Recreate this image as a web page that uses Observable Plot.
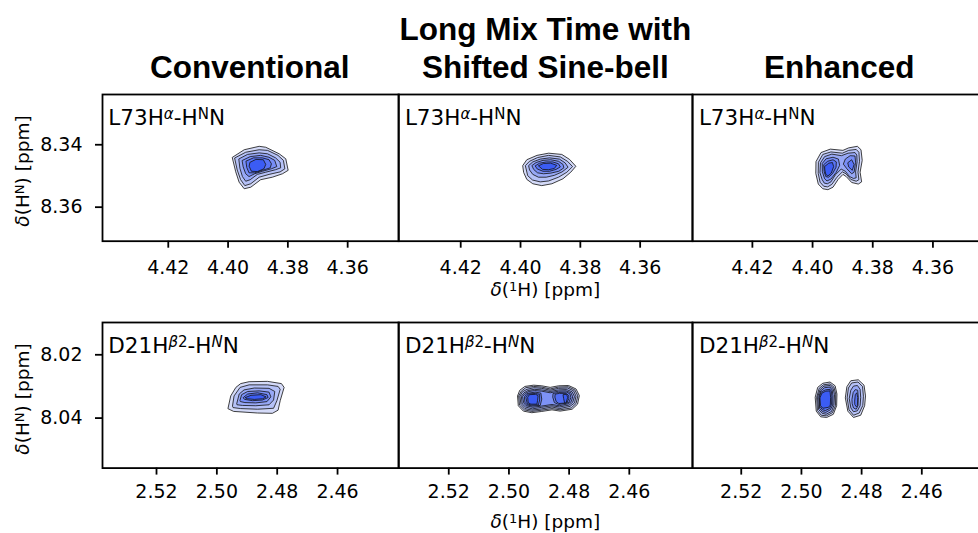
<!DOCTYPE html>
<html><head><meta charset="utf-8">
<script src="https://cdn.jsdelivr.net/npm/d3@7"></script>
<script src="https://cdn.jsdelivr.net/npm/@observablehq/plot@0.6"></script>
<style>
html,body{margin:0;padding:0;background:#fff;overflow:hidden}
#fig{position:relative;width:978px;height:533px;overflow:hidden;background:#fff}
.panel{position:absolute}
.panel svg{max-width:none !important}
.panel g[aria-label*="axis"] path,.panel g[aria-label*="axis"] line{stroke-width:1.8px}
#overlay{position:absolute;left:0;top:0;pointer-events:none}
</style></head><body><div id="fig"></div>
<script>
// ---- data: column titles, ticks and axis limits (ppm) ----
const colTitles = [["Conventional"], ["Long Mix Time with", "Shifted Sine-bell"], ["Enhanced"]];
const ticksH_L73 = [4.42, 4.40, 4.38, 4.36];
const ticksH_D21 = [2.52, 2.50, 2.48, 2.46];
const ticksN_L73 = [8.34, 8.36];
const ticksN_D21 = [8.02, 8.04];
const limitsH_L73 = [[4.4420, 4.3429], [4.4408, 4.3425], [4.4399, 4.3422]];
const limitsH_D21 = [[2.5379, 2.4397], [2.5367, 2.4390], [2.5362, 2.4385]];
const limitsN_L73 = [8.3239, 8.3709];
const limitsN_D21 = [8.0098, 8.0558];

// ---- contour polygons [level, [[δ1H, δHN], ...]] ----
const contoursL73Conventional = [
 [1, [[4.3985,8.3440],[4.3946,8.3416],[4.3896,8.3405],[4.3874,8.3408],[4.3829,8.3429],[4.3807,8.3445],[4.3799,8.3482],[4.3818,8.3493],[4.3852,8.3504],[4.3891,8.3512],[4.3924,8.3536],[4.3946,8.3541],[4.3963,8.3520],[4.3974,8.3488]]],
 [2, [[4.3977,8.3442],[4.3941,8.3424],[4.3896,8.3416],[4.3868,8.3418],[4.3833,8.3434],[4.3815,8.3450],[4.3810,8.3477],[4.3826,8.3487],[4.3863,8.3495],[4.3896,8.3504],[4.3924,8.3525],[4.3944,8.3531],[4.3958,8.3512],[4.3969,8.3482]]],
 [3, [[4.3963,8.3445],[4.3935,8.3431],[4.3896,8.3426],[4.3868,8.3429],[4.3841,8.3442],[4.3826,8.3456],[4.3824,8.3474],[4.3841,8.3480],[4.3874,8.3488],[4.3902,8.3495],[4.3926,8.3512],[4.3941,8.3517],[4.3952,8.3502],[4.3960,8.3477]]],
 [4, [[4.3952,8.3450],[4.3926,8.3438],[4.3891,8.3434],[4.3863,8.3440],[4.3844,8.3450],[4.3837,8.3470],[4.3855,8.3477],[4.3885,8.3485],[4.3911,8.3493],[4.3930,8.3502],[4.3941,8.3493],[4.3949,8.3472]]],
 [5, [[4.3939,8.3452],[4.3915,8.3442],[4.3885,8.3442],[4.3863,8.3448],[4.3855,8.3461],[4.3859,8.3474],[4.3885,8.3482],[4.3911,8.3490],[4.3930,8.3490],[4.3937,8.3474]]],
 [6, [[4.3926,8.3456],[4.3907,8.3447],[4.3882,8.3448],[4.3874,8.3463],[4.3880,8.3477],[4.3902,8.3486],[4.3922,8.3485],[4.3929,8.3470]]]
];
const contoursL73Sinebell = [
 [1, [[4.3992,8.3466],[4.3979,8.3448],[4.3945,8.3434],[4.3906,8.3427],[4.3862,8.3431],[4.3836,8.3447],[4.3815,8.3469],[4.3832,8.3488],[4.3858,8.3509],[4.3895,8.3525],[4.3929,8.3531],[4.3959,8.3525],[4.3979,8.3511],[4.3989,8.3490]]],
 [2, [[4.3983,8.3466],[4.3970,8.3453],[4.3943,8.3441],[4.3906,8.3434],[4.3867,8.3439],[4.3843,8.3453],[4.3826,8.3470],[4.3845,8.3488],[4.3873,8.3504],[4.3906,8.3516],[4.3934,8.3519],[4.3960,8.3513],[4.3975,8.3500]]],
 [3, [[4.3972,8.3466],[4.3959,8.3455],[4.3934,8.3446],[4.3903,8.3442],[4.3870,8.3446],[4.3851,8.3458],[4.3841,8.3472],[4.3861,8.3487],[4.3887,8.3498],[4.3914,8.3504],[4.3940,8.3504],[4.3959,8.3495],[4.3969,8.3482]]],
 [4, [[4.3961,8.3466],[4.3948,8.3457],[4.3925,8.3450],[4.3899,8.3448],[4.3873,8.3453],[4.3858,8.3463],[4.3855,8.3474],[4.3872,8.3485],[4.3899,8.3491],[4.3923,8.3493],[4.3943,8.3490],[4.3955,8.3480]]],
 [5, [[4.3950,8.3467],[4.3936,8.3459],[4.3914,8.3455],[4.3892,8.3455],[4.3873,8.3461],[4.3867,8.3471],[4.3881,8.3479],[4.3903,8.3485],[4.3925,8.3485],[4.3943,8.3478]]],
 [6, [[4.3939,8.3467],[4.3923,8.3460],[4.3899,8.3459],[4.3879,8.3466],[4.3887,8.3476],[4.3906,8.3480],[4.3925,8.3479]]]
];
const contoursL73Enhanced = [
 [1, [[4.3988,8.3453],[4.3972,8.3425],[4.3941,8.3414],[4.3899,8.3418],[4.3880,8.3410],[4.3851,8.3405],[4.3839,8.3416],[4.3835,8.3450],[4.3842,8.3488],[4.3837,8.3519],[4.3848,8.3526],[4.3870,8.3521],[4.3888,8.3502],[4.3899,8.3495],[4.3915,8.3511],[4.3932,8.3536],[4.3949,8.3544],[4.3966,8.3541],[4.3981,8.3526],[4.3989,8.3493]]],
 [2, [[4.3980,8.3455],[4.3966,8.3431],[4.3939,8.3423],[4.3901,8.3427],[4.3880,8.3418],[4.3855,8.3415],[4.3846,8.3424],[4.3844,8.3453],[4.3849,8.3488],[4.3846,8.3512],[4.3855,8.3517],[4.3873,8.3511],[4.3889,8.3493],[4.3901,8.3487],[4.3919,8.3504],[4.3936,8.3527],[4.3950,8.3535],[4.3963,8.3533],[4.3975,8.3520],[4.3981,8.3493]]],
 [3, [[4.3973,8.3457],[4.3960,8.3438],[4.3936,8.3430],[4.3904,8.3435],[4.3882,8.3427],[4.3859,8.3425],[4.3853,8.3433],[4.3852,8.3455],[4.3857,8.3487],[4.3855,8.3506],[4.3864,8.3508],[4.3877,8.3502],[4.3891,8.3485],[4.3905,8.3478],[4.3924,8.3496],[4.3939,8.3519],[4.3951,8.3525],[4.3961,8.3523],[4.3968,8.3512],[4.3975,8.3491]]],
 [4, [[4.3967,8.3459],[4.3955,8.3445],[4.3932,8.3440],[4.3914,8.3446],[4.3910,8.3466],[4.3921,8.3488],[4.3939,8.3510],[4.3952,8.3516],[4.3960,8.3509],[4.3967,8.3488]]],
 [4, [[4.3890,8.3445],[4.3875,8.3435],[4.3859,8.3436],[4.3857,8.3456],[4.3862,8.3488],[4.3870,8.3493],[4.3886,8.3477],[4.3897,8.3463]]],
 [5, [[4.3962,8.3463],[4.3950,8.3453],[4.3932,8.3448],[4.3921,8.3455],[4.3922,8.3472],[4.3934,8.3493],[4.3947,8.3504],[4.3956,8.3502],[4.3961,8.3488]]],
 [5, [[4.3882,8.3457],[4.3870,8.3448],[4.3862,8.3463],[4.3868,8.3482],[4.3879,8.3472]]],
 [6, [[4.3959,8.3469],[4.3946,8.3459],[4.3934,8.3457],[4.3930,8.3470],[4.3938,8.3491],[4.3949,8.3500],[4.3956,8.3495],[4.3959,8.3482]]]
];
const contoursD21Conventional = [
 [1, [[2.4963,8.0369],[2.4954,8.0330],[2.4937,8.0303],[2.4921,8.0291],[2.4893,8.0285],[2.4832,8.0284],[2.4786,8.0291],[2.4777,8.0303],[2.4790,8.0345],[2.4797,8.0375],[2.4816,8.0385],[2.4865,8.0384],[2.4943,8.0379]]],
 [2, [[2.4948,8.0361],[2.4943,8.0330],[2.4923,8.0303],[2.4893,8.0295],[2.4832,8.0295],[2.4797,8.0300],[2.4790,8.0309],[2.4801,8.0345],[2.4812,8.0369],[2.4865,8.0372],[2.4921,8.0370],[2.4945,8.0367]]],
 [3, [[2.4934,8.0354],[2.4926,8.0324],[2.4910,8.0311],[2.4876,8.0305],[2.4827,8.0306],[2.4808,8.0316],[2.4812,8.0343],[2.4827,8.0358],[2.4871,8.0361],[2.4915,8.0360],[2.4932,8.0358]]],
 [4, [[2.4923,8.0343],[2.4918,8.0326],[2.4898,8.0316],[2.4860,8.0314],[2.4827,8.0318],[2.4821,8.0333],[2.4834,8.0348],[2.4871,8.0352],[2.4907,8.0351],[2.4921,8.0348]]],
 [5, [[2.4912,8.0335],[2.4898,8.0324],[2.4865,8.0320],[2.4834,8.0326],[2.4830,8.0335],[2.4849,8.0343],[2.4882,8.0345],[2.4907,8.0341]]],
 [6, [[2.4905,8.0335],[2.4887,8.0328],[2.4854,8.0326],[2.4837,8.0333],[2.4848,8.0339],[2.4876,8.0341],[2.4898,8.0339]]]
];
const contoursD21Sinebell = [
 [1, [[2.4971,8.0329],[2.4964,8.0312],[2.4947,8.0300],[2.4918,8.0296],[2.4891,8.0298],[2.4863,8.0303],[2.4835,8.0298],[2.4802,8.0297],[2.4777,8.0308],[2.4766,8.0329],[2.4772,8.0356],[2.4790,8.0372],[2.4830,8.0378],[2.4857,8.0374],[2.4891,8.0379],[2.4924,8.0383],[2.4952,8.0378],[2.4968,8.0362]]],
 [2, [[2.4967,8.0329],[2.4959,8.0315],[2.4944,8.0304],[2.4918,8.0300],[2.4891,8.0302],[2.4863,8.0308],[2.4835,8.0302],[2.4803,8.0301],[2.4781,8.0311],[2.4771,8.0330],[2.4777,8.0354],[2.4793,8.0368],[2.4830,8.0374],[2.4857,8.0370],[2.4891,8.0375],[2.4924,8.0379],[2.4949,8.0374],[2.4964,8.0360]]],
 [3, [[2.4963,8.0330],[2.4955,8.0317],[2.4940,8.0309],[2.4917,8.0304],[2.4891,8.0306],[2.4863,8.0312],[2.4835,8.0306],[2.4805,8.0305],[2.4785,8.0314],[2.4777,8.0331],[2.4782,8.0352],[2.4797,8.0363],[2.4831,8.0370],[2.4857,8.0365],[2.4891,8.0371],[2.4923,8.0375],[2.4947,8.0370],[2.4959,8.0358]]],
 [4, [[2.4958,8.0330],[2.4950,8.0320],[2.4937,8.0313],[2.4916,8.0309],[2.4891,8.0311],[2.4863,8.0316],[2.4835,8.0311],[2.4808,8.0310],[2.4790,8.0317],[2.4782,8.0332],[2.4788,8.0350],[2.4800,8.0359],[2.4832,8.0365],[2.4857,8.0361],[2.4891,8.0366],[2.4922,8.0371],[2.4945,8.0365],[2.4955,8.0356]]],
 [5, [[2.4954,8.0331],[2.4946,8.0322],[2.4934,8.0316],[2.4915,8.0313],[2.4891,8.0315],[2.4863,8.0320],[2.4835,8.0315],[2.4810,8.0314],[2.4794,8.0320],[2.4788,8.0333],[2.4793,8.0348],[2.4803,8.0355],[2.4833,8.0361],[2.4857,8.0357],[2.4891,8.0362],[2.4921,8.0366],[2.4943,8.0361],[2.4950,8.0353]]],
 [6, [[2.4948,8.0332],[2.4940,8.0322],[2.4913,8.0318],[2.4894,8.0321],[2.4891,8.0340],[2.4896,8.0360],[2.4924,8.0362],[2.4940,8.0358],[2.4946,8.0351]]],
 [6, [[2.4852,8.0322],[2.4835,8.0319],[2.4808,8.0318],[2.4797,8.0324],[2.4794,8.0335],[2.4801,8.0351],[2.4835,8.0357],[2.4849,8.0351],[2.4854,8.0335]]],
 [7, [[2.4943,8.0333],[2.4936,8.0324],[2.4912,8.0322],[2.4898,8.0325],[2.4898,8.0343],[2.4902,8.0358],[2.4926,8.0359],[2.4938,8.0355]]],
 [7, [[2.4845,8.0324],[2.4832,8.0322],[2.4810,8.0322],[2.4801,8.0329],[2.4801,8.0339],[2.4808,8.0352],[2.4834,8.0354],[2.4843,8.0348],[2.4847,8.0335]]],
 [8, [[2.4937,8.0333],[2.4932,8.0326],[2.4911,8.0325],[2.4903,8.0329],[2.4905,8.0345],[2.4907,8.0356],[2.4927,8.0356],[2.4935,8.0352]]],
 [8, [[2.4819,8.0326],[2.4808,8.0325],[2.4805,8.0335],[2.4810,8.0352],[2.4815,8.0352],[2.4818,8.0339]]]
];
const contoursD21Enhanced = [
 [1, [[2.4954,8.0333],[2.4946,8.0303],[2.4929,8.0290],[2.4905,8.0286],[2.4888,8.0298],[2.4882,8.0324],[2.4883,8.0361],[2.4894,8.0388],[2.4916,8.0398],[2.4936,8.0396],[2.4950,8.0379]]],
 [1, [[2.4854,8.0335],[2.4849,8.0301],[2.4836,8.0282],[2.4811,8.0279],[2.4792,8.0296],[2.4787,8.0330],[2.4790,8.0361],[2.4803,8.0391],[2.4827,8.0398],[2.4845,8.0379]]],
 [2, [[2.4949,8.0333],[2.4941,8.0306],[2.4927,8.0295],[2.4905,8.0292],[2.4892,8.0302],[2.4886,8.0324],[2.4887,8.0361],[2.4897,8.0383],[2.4917,8.0393],[2.4934,8.0391],[2.4946,8.0377]]],
 [2, [[2.4848,8.0335],[2.4844,8.0305],[2.4833,8.0289],[2.4812,8.0286],[2.4797,8.0300],[2.4794,8.0331],[2.4796,8.0360],[2.4808,8.0384],[2.4827,8.0391],[2.4841,8.0375]]],
 [3, [[2.4946,8.0333],[2.4938,8.0310],[2.4925,8.0299],[2.4905,8.0297],[2.4895,8.0306],[2.4890,8.0326],[2.4892,8.0360],[2.4900,8.0379],[2.4918,8.0388],[2.4931,8.0385],[2.4942,8.0374]]],
 [3, [[2.4841,8.0337],[2.4836,8.0312],[2.4827,8.0299],[2.4814,8.0297],[2.4805,8.0309],[2.4803,8.0335],[2.4805,8.0361],[2.4814,8.0377],[2.4827,8.0380],[2.4835,8.0369]]],
 [4, [[2.4942,8.0333],[2.4936,8.0314],[2.4923,8.0304],[2.4905,8.0302],[2.4898,8.0311],[2.4895,8.0329],[2.4896,8.0359],[2.4904,8.0374],[2.4919,8.0382],[2.4930,8.0380],[2.4939,8.0370]]],
 [4, [[2.4832,8.0340],[2.4828,8.0319],[2.4821,8.0310],[2.4813,8.0312],[2.4811,8.0335],[2.4812,8.0361],[2.4818,8.0372],[2.4827,8.0368],[2.4831,8.0356]]],
 [5, [[2.4940,8.0333],[2.4935,8.0318],[2.4921,8.0311],[2.4905,8.0309],[2.4900,8.0316],[2.4899,8.0331],[2.4900,8.0358],[2.4907,8.0370],[2.4920,8.0376],[2.4930,8.0374],[2.4938,8.0364]]],
 [5, [[2.4823,8.0345],[2.4821,8.0326],[2.4816,8.0320],[2.4813,8.0335],[2.4814,8.0361],[2.4818,8.0364],[2.4822,8.0358]]],
 [6, [[2.4938,8.0335],[2.4932,8.0321],[2.4919,8.0315],[2.4905,8.0314],[2.4903,8.0335],[2.4904,8.0359],[2.4910,8.0366],[2.4929,8.0369],[2.4936,8.0361]]]
];

// ---- layout (pixels) ----
const colLeft = [101.7, 398.3, 692.3], colW = [296.3, 294, 294];
const rowTop = [94, 321.7], rowH = [146.7, 145.6];
const levelColors = ["#d4daf8", "#3b5cf4"];

const rowsDef = [
  {contours: [contoursL73Conventional, contoursL73Sinebell, contoursL73Enhanced], xlim: limitsH_L73, ylim: limitsN_L73, xticks: ticksH_L73, yticks: ticksN_L73, pad: 12},
  {contours: [contoursD21Conventional, contoursD21Sinebell, contoursD21Enhanced], xlim: limitsH_D21, ylim: limitsN_D21, xticks: ticksH_D21, yticks: ticksN_D21, pad: 9.5}
];

const fig = document.getElementById("fig");
const fmt = d3.format(".2f");

rowsDef.forEach((r, ri) => {
  r.contours.forEach((contours, ci) => {
    const rows = [];
    contours.forEach(([level, pts], k) => pts.forEach(([x, y]) => rows.push({id: k, level, x, y})));
    const nMax = d3.max(contours, c => c[0]);
    const mL = ci === 0 ? 70 : 1, mR = 1, mT = 1, mB = 45;
    const plot = Plot.plot({
      width: colW[ci] + mL + mR,
      height: rowH[ri] + mT + mB,
      marginLeft: mL, marginRight: mR, marginTop: mT, marginBottom: mB,
      style: {fontFamily: "DejaVu Sans", fontSize: "19px", color: "#000", background: "transparent", maxWidth: "none", overflow: "visible"},
      x: {domain: r.xlim[ci], ticks: r.xticks, tickFormat: fmt, tickSize: 7, tickPadding: r.pad, label: null},
      y: ci === 0
        ? {domain: r.ylim, reverse: true, ticks: r.yticks, tickFormat: fmt, tickSize: 7, tickPadding: 13, label: null}
        : {domain: r.ylim, reverse: true, axis: null},
      color: {type: "linear", domain: [1, nMax], range: levelColors},
      marks: [
        Plot.line(rows, {x: "x", y: "y", z: "id", fill: "level", stroke: "#111", strokeWidth: 0.8, curve: "linear-closed"}),
        Plot.frame({stroke: "#000", strokeWidth: 1.8})
      ]
    });
    const div = document.createElement("div");
    div.className = "panel";
    div.style.left = (colLeft[ci] - mL) + "px";
    div.style.top = (rowTop[ri] - mT) + "px";
    div.style.width = (colW[ci] + mL + mR) + "px";
    div.appendChild(plot);
    fig.appendChild(div);
  });
});

// ---- text overlay ----
const centers = colLeft.map((l, i) => l + colW[i] / 2);
const rowLabels = [
  'L73H<tspan font-size="15" dy="-6" font-style="italic">α</tspan><tspan dy="6">-H</tspan><tspan font-size="15" dy="-6">N</tspan><tspan dy="6">N</tspan>',
  'D21H<tspan font-size="15" dy="-6"><tspan font-style="italic">β</tspan>2</tspan><tspan dy="6">-H</tspan><tspan font-size="15" dy="-6" font-style="italic">N</tspan><tspan dy="6">N</tspan>'
];
const xLabel = '<tspan font-style="italic">δ</tspan>(<tspan font-size="13" dy="-5.5">1</tspan><tspan dy="5.5">H) [ppm]</tspan>';
const yLabel = '<tspan font-style="italic">δ</tspan>(H<tspan font-size="13" dy="-5.5">N</tspan><tspan dy="5.5">) [ppm]</tspan>';
let s = '<svg id="overlay" width="978" height="533" xmlns="http://www.w3.org/2000/svg">';
s += '<g font-family="Liberation Sans, Arial, sans-serif" font-weight="bold" font-size="31.5" text-anchor="middle" fill="#000">';
colTitles.forEach((lines, i) => {
  lines.forEach((t, j) => {
    const y = 77.5 - (lines.length - 1 - j) * 37.5;
    s += `<text x="${centers[i]}" y="${y}">${t}</text>`;
  });
});
s += '</g><g font-family="DejaVu Sans" fill="#000">';
rowTop.forEach((t, ri) => {
  colLeft.forEach(l => { s += `<text x="${l + 6.6}" y="${t + 31}" font-size="21.5">${rowLabels[ri]}</text>`; });
  const xb = ri === 0 ? 296 : 528;
  s += `<text x="${centers[1]}" y="${xb}" font-size="18.5" text-anchor="middle">${xLabel}</text>`;
  const yc = ri === 0 ? 171 : 399;
  s += `<text transform="translate(29,${yc}) rotate(-90)" font-size="18.5" text-anchor="middle">${yLabel}</text>`;
});
s += '</g></svg>';
fig.insertAdjacentHTML("beforeend", s);
</script>
</body></html>
